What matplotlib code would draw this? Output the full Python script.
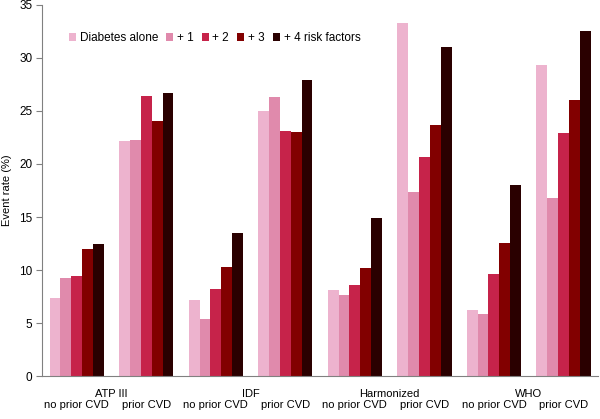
import matplotlib
matplotlib.use("Agg")
import matplotlib.pyplot as plt
import numpy as np
from matplotlib.transforms import blended_transform_factory

plt.rcParams['font.family'] = ['Liberation Sans', 'DejaVu Sans']

groups = ["ATP III", "IDF", "Harmonized", "WHO"]
subgroups = ["no prior CVD", "prior CVD"]
series_names = ["Diabetes alone", "+ 1", "+ 2", "+ 3", "+ 4 risk factors"]
colors = ["#EDB3CE", "#E08AAC", "#C6234A", "#820000", "#2A0000"]

# values per cluster (ATP no prior, ATP prior, IDF no, IDF prior, Harm no, Harm prior, WHO no, WHO prior)
diabetes_alone = [7.35, 22.2, 7.2, 25.0, 8.1, 33.3, 6.2, 29.35]
plus1 = [9.25, 22.3, 5.4, 26.3, 7.6, 17.35, 5.85, 16.75]
plus2 = [9.4, 26.4, 8.2, 23.15, 8.6, 20.65, 9.65, 22.9]
plus3 = [11.95, 24.1, 10.3, 23.0, 10.15, 23.7, 12.55, 26.05]
plus4 = [12.5, 26.7, 13.45, 27.9, 14.95, 31.0, 18.05, 32.55]
series = [diabetes_alone, plus1, plus2, plus3, plus4]

fig = plt.figure(figsize=(6.0, 4.19), dpi=100)
ax = fig.add_axes([0.07, 0.1026, 0.927, 0.8855])

n = len(diabetes_alone)
x = np.arange(n)
w = 0.156
for i, (vals, c, name) in enumerate(zip(series, colors, series_names)):
    ax.bar(x + (i - 2) * w, vals, width=w, color=c, label=name, linewidth=0)

ax.set_xlim(-0.5, n - 0.5)
ax.set_ylim(0, 35)
ax.set_yticks(np.arange(0, 36, 5))
ax.tick_params(axis='y', labelsize=8.5, length=4, color='#808080', width=0.8, direction='out', pad=3)
ax.set_ylabel("Event rate (%)", fontsize=8, labelpad=5)

ax.set_xticks(x)
ax.set_xticklabels([subgroups[i % 2] for i in range(n)], fontsize=8)
ax.tick_params(axis='x', length=0, pad=17)

trans = blended_transform_factory(ax.transData, ax.transAxes)
for gi, g in enumerate(groups):
    ax.text(2 * gi + 0.5, -0.034, g, transform=trans, ha='center', va='top', fontsize=8)

for s in ['top', 'right']:
    ax.spines[s].set_visible(False)
for s in ['left', 'bottom']:
    ax.spines[s].set_color('#808080')
    ax.spines[s].set_linewidth(0.8)

leg = ax.legend(loc='upper left', bbox_to_anchor=(0.04, 0.94), ncol=5, frameon=False,
                fontsize=8.5, handlelength=0.6, handleheight=0.6, handletextpad=0.3,
                columnspacing=0.7, borderaxespad=0)

fig.savefig("out.png", dpi=100)
